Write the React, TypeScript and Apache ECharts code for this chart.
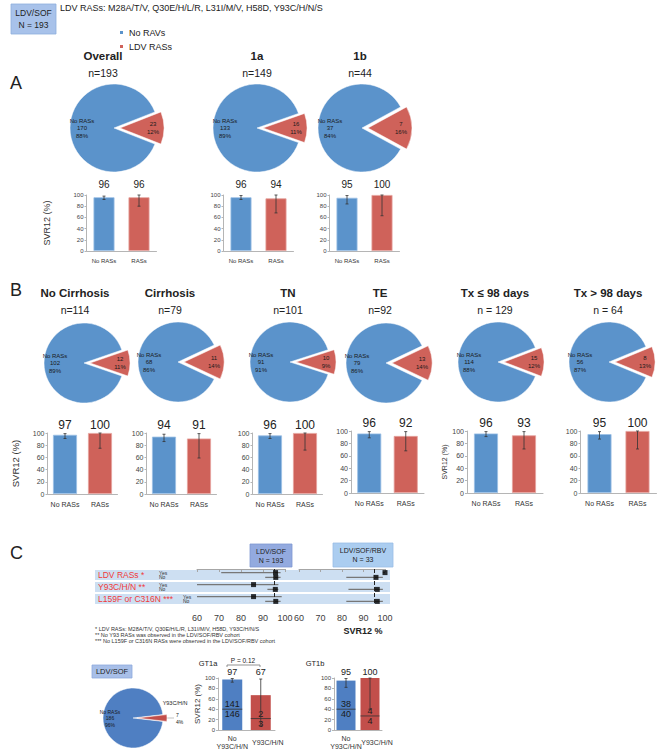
import React, { useEffect, useRef } from "react";
import * as echarts from "echarts";

// ================= DATA =================
const rasCategories = ["No RASs", "RASs"];
const legendNames = ["No RAVs", "LDV RASs"];
const headerBox = "LDV/SOF\nN = 193";
const headerText = "LDV RASs: M28A/T/V, Q30E/H/L/R, L31I/M/V, H58D, Y93C/H/N/S";

// Section A
const groupsA = ["Overall", "1a", "1b"];
const totalA = [193, 149, 44];
const noRasA = [170, 133, 37];
const rasA = [23, 16, 7];
const noRasPctA = [88, 89, 84];
const rasPctA = [12, 11, 16];
const svrNoRasA = [96, 96, 95];
const svrRasA = [96, 94, 100];
const ciLowNoRasA = [92, 92, 84];
const ciHighNoRasA = [98, 99, 99];
const ciLowRasA = [80, 68, 63];
const ciHighRasA = [100, 100, 100];

// Section B
const groupsB = ["No Cirrhosis", "Cirrhosis", "TN", "TE", "Tx \u2264 98 days", "Tx > 98 days"];
const totalB = [114, 79, 101, 92, 129, 64];
const noRasB = [102, 68, 91, 79, 114, 56];
const rasB = [12, 11, 10, 13, 15, 8];
const noRasPctB = [89, 86, 91, 86, 88, 87];
const rasPctB = [11, 14, 9, 14, 12, 13];
const svrNoRasB = [97, 94, 96, 96, 96, 95];
const svrRasB = [100, 91, 100, 92, 93, 100];
const ciLowNoRasB = [91, 86, 91, 89, 91, 87];
const ciHighNoRasB = [99, 98, 99, 99, 99, 99];
const ciLowRasB = [75, 59, 72, 68, 71, 71];
const ciHighRasB = [100, 99, 100, 99, 99, 100];

// Section C forest plot
const cohortBoxes = ["LDV/SOF\nN = 193", "LDV/SOF/RBV\nN = 33"];
const forestRows = ["LDV RASs *", "Y93C/H/N **", "L159F or C316N ***"];
const forestTicks = [60, 70, 80, 90, 100];
const svrReference = 95;
// LDV/SOF cohort
const sofYesSvr = [95.7, 85.7, 85.7];
const sofYesLow = [71, 60, 60];
const sofYesHigh = [98, 97, 98.5];
const sofNoSvr = [95.8, 95.6, 95.8];
const sofNoLow = [91, 92, 91];
const sofNoHigh = [98, 97, 98];
// LDV/SOF/RBV cohort
const rbvYesSvr = [100, null, null];
const rbvYesLow = [99, null, null];
const rbvYesHigh = [100, null, null];
const rbvNoSvr = [95.8, 96.4, 96.4];
const rbvNoLow = [82, 83, 82];
const rbvNoHigh = [99, 99, 99];
const footnotes = [
  "* LDV RASs: M28A/T/V, Q30E/H/L/R, L31I/M/V, H58D, Y93C/H/N/S",
  "** No Y93 RASs was observed in the LDV/SOF/RBV cohort",
  "*** No L159F or C316N RASs were observed in the LDV/SOF/RBV cohort",
];

// Bottom panel
const y93Categories = ["No\nY93C/H/N", "Y93C/H/N"];
const y93PieCounts = [186, 7];
const y93PiePct = [96, 4];
const gtGroups = ["GT1a", "GT1b"];
const gtSvrNo = [97, 95];
const gtSvrY93 = [67, 100];
const gtNumNo = [141, 38];
const gtDenNo = [146, 40];
const gtNumY93 = [2, 4];
const gtDenY93 = [3, 4];
const gtDividerNo = [40, 40];
const gtDividerY93 = [22, 27];
const gtCiLowNo = [92, 82];
const gtCiHighNo = [99, 99];
const gtCiLowY93 = [9, 40];
const gtCiHighY93 = [98, 100];
const gtPValue = "P = 0.12";

// ================= STYLE / LAYOUT =================
const FONT = "'Liberation Sans', Arial, Helvetica, sans-serif";
const BLUE = "#5b93cb";
const RED = "#cf625a";
const BLUE2 = "#4f7fc2";
const RED2 = "#c24f4b";
const AXIS = "#b5b5b5";

function buildOption() {
  const grid: any[] = [];
  const xAxis: any[] = [];
  const yAxis: any[] = [];
  const series: any[] = [];
  const graphic: any[] = [];

  const text = (t: string, x: number, y: number, o: any = {}) => {
    const align = o.align || "center";
    const valign = o.verticalAlign || "middle";
    const style: any = {
      text: t,
      fontFamily: FONT,
      fontSize: o.fontSize || 9,
      fontWeight: o.fontWeight || "normal",
      fill: o.fill || "#222",
      align,
      verticalAlign: valign,
      textAlign: align,
      textVerticalAlign: valign,
    };
    if (o.lineHeight) style.lineHeight = o.lineHeight;
    graphic.push({ type: "text", x, y, z: 100, silent: true, style });
  };
  const rect = (x: number, y: number, w: number, h: number, fill: string, stroke?: string, z = 0) => {
    graphic.push({
      type: "rect",
      z,
      silent: true,
      shape: { x, y, width: w, height: h },
      style: { fill, stroke: stroke || "none", lineWidth: stroke ? 0.8 : 0 },
    });
  };

  // ---------- pies ----------
  const addPie = (cx: number, cy: number, r: number, noRas: number, ras: number, noPct: number, rasPct: number, o: any) => {
    const frac = ras / (ras + noRas);
    series.push({
      type: "pie",
      center: [cx, cy],
      radius: r,
      startAngle: frac * 180,
      clockwise: true,
      selectedMode: "single",
      selectedOffset: o.offset,
      avoidLabelOverlap: false,
      silent: true,
      emphasis: { scale: false },
      itemStyle: { borderColor: "#ffffff", borderWidth: 0.5 },
      label: {
        show: true,
        position: "inside",
        fontFamily: FONT,
        fontSize: o.fontSize,
        lineHeight: o.fontSize + 1.5,
        color: "#1a1a1a",
      },
      labelLine: { show: false },
      data: [
        {
          name: legendNames[1],
          value: ras,
          selected: true,
          itemStyle: { color: o.red || RED },
          label: o.rasLabel || { formatter: `${ras}\n${rasPct}%`, padding: [0, 0, 0, o.padR] },
          labelLine: o.rasLabelLine,
        },
        {
          name: legendNames[0],
          value: noRas,
          itemStyle: { color: o.blue || BLUE },
          label: { formatter: `No RASs\n${noRas}\n${noPct}%`, padding: [0, o.padB, 0, 0] },
        },
      ],
    });
  };

  // ---------- bar panels ----------
  const errRender = (color: string) => (params: any, api: any) => {
    const x = api.value(0);
    const p1 = api.coord([x, api.value(1)]);
    const p2 = api.coord([x, api.value(2)]);
    const st = { stroke: color, lineWidth: 0.8 };
    return {
      type: "group",
      children: [
        { type: "line", shape: { x1: p1[0], y1: p1[1], x2: p2[0], y2: p2[1] }, style: st },
        { type: "line", shape: { x1: p1[0] - 1.5, y1: p1[1], x2: p1[0] + 1.5, y2: p1[1] }, style: st },
        { type: "line", shape: { x1: p2[0] - 1.5, y1: p2[1], x2: p2[0] + 1.5, y2: p2[1] }, style: st },
      ],
    };
  };

  const addBars = (p: any) => {
    const gi = grid.length;
    grid.push({ left: p.left, top: p.top, width: p.width, height: p.height, containLabel: false });
    const xi = xAxis.length;
    xAxis.push({
      type: "category",
      gridIndex: gi,
      data: p.cats,
      axisLine: { show: true, lineStyle: { color: AXIS, width: 1 } },
      axisTick: { show: false },
      axisLabel: {
        interval: 0,
        fontSize: p.catFont,
        color: "#333",
        margin: p.catMargin,
        fontFamily: FONT,
        lineHeight: p.catFont + 1,
        formatter: p.catFormatter,
        rich: p.catRich,
      },
    });
    xAxis.push({
      type: "category",
      gridIndex: gi,
      position: "top",
      data: p.values.map((v: number) => String(v)),
      axisLine: { show: false },
      axisTick: { show: false },
      axisLabel: { interval: 0, fontSize: p.valFont, color: "#222", margin: p.valMargin, fontFamily: FONT },
    });
    const yi = yAxis.length;
    yAxis.push({
      type: "value",
      gridIndex: gi,
      min: 0,
      max: 100,
      interval: 20,
      axisLine: { show: true, lineStyle: { color: AXIS, width: 1 } },
      axisTick: { show: true, length: 2, lineStyle: { color: AXIS } },
      splitLine: { show: false },
      axisLabel: { fontSize: p.yFont, color: "#444", margin: 3, fontFamily: FONT },
      name: p.yName || "",
      nameLocation: "middle",
      nameGap: p.yNameGap || 20,
      nameRotate: 90,
      nameTextStyle: { fontSize: p.yNameFont || 9, color: "#333", fontFamily: FONT },
    });
    series.push({
      type: "bar",
      xAxisIndex: xi,
      yAxisIndex: yi,
      barWidth: p.barWidth,
      silent: true,
      data: p.values.map((v: number, i: number) => ({
        value: v,
        itemStyle: {
          color: p.colors[i],
          borderColor: p.borders ? p.borders[i] : undefined,
          borderWidth: p.borders ? 0.8 : 0,
        },
      })),
    });
    series.push({
      type: "custom",
      xAxisIndex: xi,
      yAxisIndex: yi,
      silent: true,
      z: 5,
      renderItem: errRender("#333"),
      encode: { x: 0, y: [1, 2] },
      data: p.ci.map((c: number[], i: number) => [i, c[0], c[1]]),
    });
    if (p.fractions) {
      const bw = p.barWidth;
      series.push({
        type: "custom",
        xAxisIndex: xi,
        yAxisIndex: yi,
        silent: true,
        z: 4,
        encode: { x: 0, y: 1 },
        data: p.fractions,
        renderItem: (params: any, api: any) => {
          const pt = api.coord([api.value(0), api.value(1)]);
          const fs = 9;
          return {
            type: "group",
            children: [
              { type: "line", shape: { x1: pt[0] - bw / 2, y1: pt[1], x2: pt[0] + bw / 2, y2: pt[1] }, style: { stroke: "#333", lineWidth: 0.8 } },
              { type: "text", style: { text: String(api.value(2)), x: pt[0], y: pt[1] - 0.5, align: "center", verticalAlign: "bottom", fontSize: fs, fontFamily: FONT, fill: "#1a1a1a" } },
              { type: "text", style: { text: String(api.value(3)), x: pt[0], y: pt[1] + 0.5, align: "center", verticalAlign: "top", fontSize: fs, fontFamily: FONT, fill: "#1a1a1a" } },
            ],
          };
        },
      });
    }
  };

  // ================= HEADER =================
  rect(11, 4, 45, 30, "#a8c2ea", "#8eaedd");
  text(headerBox, 33.5, 19, { fontSize: 8.5, lineHeight: 11.5 });
  text(headerText, 60, 8, { fontSize: 9, align: "left" });

  // ================= SECTION A =================
  text("A", 10, 83, { fontSize: 18, align: "left" });
  const pieA = [
    { cx: 114, cy: 128 },
    { cx: 257, cy: 128 },
    { cx: 362, cy: 128 },
  ];
  const titleXA = [103, 257, 360];
  const barLeftA = [86.5, 223.5, 329.5];
  groupsA.forEach((g, i) => {
    text(g, titleXA[i], 56, { fontSize: 11.5, fontWeight: "bold" });
    text(`n=${totalA[i]}`, titleXA[i], 73, { fontSize: 10.5 });
    addPie(pieA[i].cx, pieA[i].cy, 44, noRasA[i], rasA[i], noRasPctA[i], rasPctA[i], { offset: 6, fontSize: 6, padR: 16, padB: 14 });
    addBars({
      left: barLeftA[i],
      top: 195,
      width: 70,
      height: 56,
      barWidth: 21,
      cats: rasCategories,
      values: [svrNoRasA[i], svrRasA[i]],
      ci: [
        [ciLowNoRasA[i], ciHighNoRasA[i]],
        [ciLowRasA[i], ciHighRasA[i]],
      ],
      colors: [BLUE, RED],
      borders: ["#9cc0e6", "#e6a39e"],
      catFont: 6,
      catMargin: 6,
      valFont: 10,
      valMargin: 6,
      yFont: 6,
      yName: i === 0 ? "SVR12 (%)" : "",
      yNameGap: 35,
      yNameFont: 9,
    });
  });

  // ================= SECTION B =================
  text("B", 10, 290, { fontSize: 18, align: "left" });
  const pieB = [
    { cx: 84, cy: 363 },
    { cx: 178, cy: 362 },
    { cx: 290, cy: 362 },
    { cx: 386, cy: 363 },
    { cx: 498, cy: 362 },
    { cx: 609, cy: 362 },
  ];
  const titleXB = [75, 170, 288, 380, 495, 608];
  const barB = [
    { left: 47.5, width: 70, top: 433, height: 61 },
    { left: 146.5, width: 70, top: 433, height: 61 },
    { left: 252.5, width: 70, top: 433, height: 61 },
    { left: 351, width: 73, top: 431, height: 62 },
    { left: 467, width: 76, top: 431, height: 62 },
    { left: 580.5, width: 76, top: 431, height: 62 },
  ];
  groupsB.forEach((g, i) => {
    text(g, titleXB[i], 293, { fontSize: 11.5, fontWeight: "bold" });
    text(i >= 4 ? `n = ${totalB[i]}` : `n=${totalB[i]}`, titleXB[i], 310, { fontSize: 10.5 });
    addPie(pieB[i].cx, pieB[i].cy, 40, noRasB[i], rasB[i], noRasPctB[i], rasPctB[i], { offset: 6, fontSize: 6, padR: 14, padB: 12 });
    addBars({
      ...barB[i],
      barWidth: 24,
      cats: rasCategories,
      values: [svrNoRasB[i], svrRasB[i]],
      ci: [
        [ciLowNoRasB[i], ciHighNoRasB[i]],
        [ciLowRasB[i], ciHighRasB[i]],
      ],
      colors: [BLUE, RED],
      borders: ["#9cc0e6", "#e6a39e"],
      catFont: 7,
      catMargin: 6,
      valFont: 12,
      valMargin: 2,
      yFont: 7,
      yName: i === 0 || i === 4 ? "SVR12 (%)" : "",
      yNameGap: i === 0 ? 27 : 19,
      yNameFont: i === 0 ? 9.5 : 7,
    });
  });

  // ================= SECTION C =================
  text("C", 10, 553, { fontSize: 18, align: "left" });
  rect(250, 544, 42, 23, "#93aadf", "#7f98d0");
  text(cohortBoxes[0], 271, 555.5, { fontSize: 7, lineHeight: 9 });
  rect(333, 543, 60, 24, "#abcdf0", "#9abde6");
  text(cohortBoxes[1], 363, 555, { fontSize: 7, lineHeight: 9 });

  const fTop = 569;
  const fRowH = 12;
  forestRows.forEach((r, i) => {
    rect(95, fTop + i * fRowH + 1, 295, fRowH - 2, "#cddff2", undefined, 0);
    text(r, 98, fTop + i * fRowH + 6, { fontSize: 8.5, align: "left", fill: "#f03a3a" });
    const yx = i === 2 ? 183 : 159;
    text("Yes", yx, fTop + i * fRowH + 3.6, { fontSize: 5, align: "left", fill: "#333" });
    text("No", yx, fTop + i * fRowH + 8.4, { fontSize: 5, align: "left", fill: "#333" });
  });

  const ciRender = (params: any, api: any) => {
    const p1 = api.coord([api.value(0), api.value(2)]);
    const p2 = api.coord([api.value(1), api.value(2)]);
    return { type: "line", shape: { x1: p1[0], y1: p1[1], x2: p2[0], y2: p2[1] }, style: { stroke: "#777777", lineWidth: 1.3 } };
  };

  const addForest = (left: number, width: number, yesSvr: any[], yesLow: any[], yesHigh: any[], noSvr: number[], noLow: number[], noHigh: number[]) => {
    const gi = grid.length;
    grid.push({ left, top: fTop, width, height: fRowH * 3, containLabel: false });
    const xi = xAxis.length;
    xAxis.push({
      type: "value",
      gridIndex: gi,
      min: forestTicks[0],
      max: forestTicks[forestTicks.length - 1],
      interval: 10,
      axisLine: { show: true, lineStyle: { color: "#a6a6a6" } },
      axisTick: { show: true, length: 3, lineStyle: { color: "#a6a6a6" } },
      splitLine: { show: false },
      axisLabel: { fontSize: 9, color: "#404040", margin: 8, fontFamily: FONT },
    });
    const yi = yAxis.length;
    yAxis.push({ type: "value", gridIndex: gi, min: 0, max: 3, inverse: true, show: false });
    const ciData: any[] = [];
    const ptData: any[] = [];
    forestRows.forEach((_, i) => {
      if (yesSvr[i] != null) {
        ciData.push([yesLow[i], yesHigh[i], i + 0.3]);
        ptData.push([yesSvr[i], i + 0.3]);
      }
      ciData.push([noLow[i], noHigh[i], i + 0.7]);
      ptData.push([noSvr[i], i + 0.7]);
    });
    series.push({
      type: "custom",
      xAxisIndex: xi,
      yAxisIndex: yi,
      silent: true,
      z: 3,
      encode: { x: [0, 1], y: 2 },
      data: ciData,
      renderItem: ciRender,
    });
    series.push({
      type: "scatter",
      xAxisIndex: xi,
      yAxisIndex: yi,
      silent: true,
      z: 4,
      symbol: "rect",
      symbolSize: 5,
      itemStyle: { color: "#000" },
      data: ptData,
      markLine: {
        silent: true,
        symbol: "none",
        label: { show: false },
        lineStyle: { type: "dashed", color: "#222", width: 1 },
        data: [{ xAxis: svrReference }],
      },
    });
  };
  addForest(197, 88, sofYesSvr, sofYesLow, sofYesHigh, sofNoSvr, sofNoLow, sofNoHigh);
  addForest(299, 86, rbvYesSvr, rbvYesLow, rbvYesHigh, rbvNoSvr, rbvNoLow, rbvNoHigh);
  text("SVR12 %", 363, 631, { fontSize: 9, fontWeight: "bold" });
  footnotes.forEach((f, i) => text(f, 95, 629 + i * 6, { fontSize: 5.5, align: "left", fill: "#333" }));

  // ================= BOTTOM =================
  rect(92, 665, 40, 13, "#a8bfe8", "#8eaadd");
  text("LDV/SOF", 112, 671.5, { fontSize: 7.5 });
  addPie(133, 718, 30, y93PieCounts[0], y93PieCounts[1], y93PiePct[0], y93PiePct[1], {
    offset: 4,
    fontSize: 5,
    padB: 10,
    blue: BLUE2,
    red: RED2,
    rasLabel: {
      position: "outside",
      formatter: `${y93PieCounts[1]}\n${y93PiePct[1]}%`,
      fontSize: 5,
      lineHeight: 7,
      distanceToLabelLine: 2,
    },
    rasLabelLine: { show: true, length: 3, length2: 4, lineStyle: { color: "#999", width: 0.6 } },
  });
  text(y93Categories[1], 175, 703, { fontSize: 5.5 });

  const gtLayout = [
    { left: 218, width: 57, barWidth: 20, titleX: 208 },
    { left: 334, width: 48, barWidth: 19, titleX: 315 },
  ];
  gtGroups.forEach((g, i) => {
    const L = gtLayout[i];
    text(g, L.titleX, 663, { fontSize: 7.5 });
    addBars({
      left: L.left,
      top: 678,
      width: L.width,
      height: 52,
      barWidth: L.barWidth,
      cats: y93Categories,
      values: [gtSvrNo[i], gtSvrY93[i]],
      ci: [
        [gtCiLowNo[i], gtCiHighNo[i]],
        [gtCiLowY93[i], gtCiHighY93[i]],
      ],
      colors: [BLUE2, RED2],
      catFont: 7,
      catMargin: 4,
      catFormatter: (v: string, idx: number) => (idx === 1 ? `{r|${v}}` : `{b|${v}}`),
      catRich: {
        b: { fontSize: 7, lineHeight: 8, fontFamily: FONT, color: "#333" },
        r: { fontSize: 7, lineHeight: 8, fontFamily: FONT, color: "#333", padding: [8, 0, 0, 14] },
      },
      valFont: 9,
      valMargin: 2,
      yFont: 6,
      yName: i === 0 ? "SVR12 (%)" : "",
      yNameGap: 14,
      yNameFont: 8,
      fractions: [
        [0, gtDividerNo[i], gtNumNo[i], gtDenNo[i]],
        [1, gtDividerY93[i], gtNumY93[i], gtDenY93[i]],
      ],
    });
  });
  text(gtPValue, 243, 660, { fontSize: 6.5 });
  graphic.push({
    type: "polyline",
    silent: true,
    shape: { points: [[227, 667], [227, 665], [260, 665], [260, 667]] },
    style: { stroke: "#777", lineWidth: 0.8, fill: "none" },
  });

  return {
    animation: false,
    backgroundColor: "#ffffff",
    textStyle: { fontFamily: FONT },
    legend: {
      data: legendNames,
      orient: "vertical",
      left: 118,
      top: 28,
      padding: 0,
      itemWidth: 5,
      itemHeight: 5,
      itemGap: 5,
      icon: "rect",
      selectedMode: false,
      textStyle: { fontSize: 9, color: "#222", fontFamily: FONT },
    },
    grid,
    xAxis,
    yAxis,
    series,
    graphic: { elements: graphic },
  };
}

export default function App() {
  const ref = useRef<HTMLDivElement>(null);
  useEffect(() => {
    if (!ref.current) return;
    const chart = echarts.init(ref.current, null, { renderer: "svg" });
    chart.setOption(buildOption() as any);
    return () => chart.dispose();
  }, []);
  return (
    <div
      ref={ref}
      style={{ position: "fixed", left: 0, top: 0, width: 660, height: 751, background: "#fff" }}
    />
  );
}
